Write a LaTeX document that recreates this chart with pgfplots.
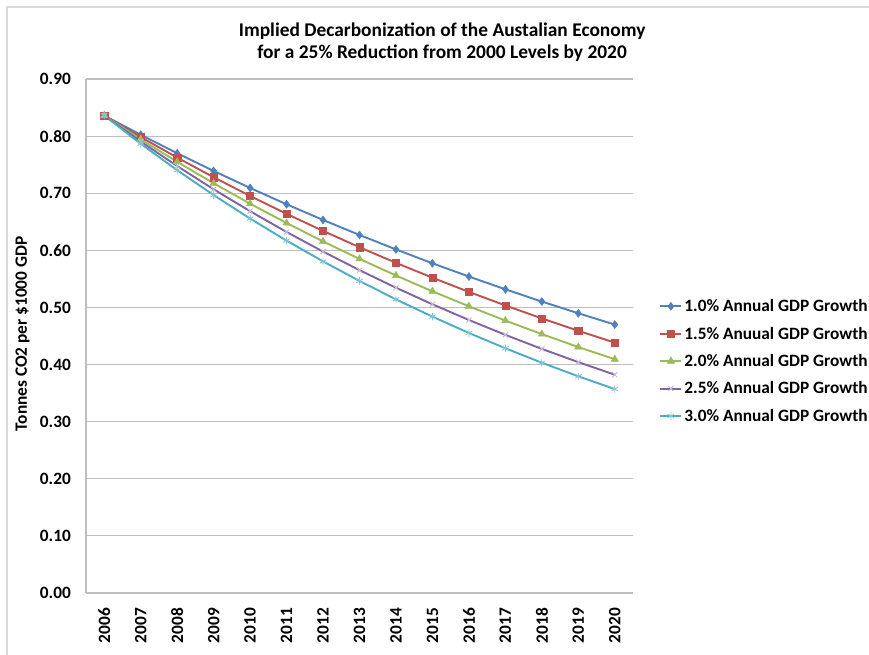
\documentclass[border=0pt]{standalone}
\usepackage{fontspec}
\setmainfont{Carlito}
\usepackage{pgfplots}
\pgfplotsset{compat=1.18}
\definecolor{s1}{HTML}{4F81BD}
\definecolor{s2}{HTML}{C0504D}
\definecolor{s3}{HTML}{9BBB59}
\definecolor{s4}{HTML}{8064A2}
\definecolor{s5}{HTML}{4BACC6}
\definecolor{gridc}{HTML}{BFBFBF}
\definecolor{framec}{HTML}{D9D9D9}
\begin{document}
\begin{tikzpicture}[x=1bp,y=1bp]
\useasboundingbox (0,0) rectangle (869,655);
\draw[framec, line width=2bp] (7,-5) -- (7,648) -- (875,648);
\begin{axis}[
  at={(86bp,62bp)}, anchor=south west,
  scale only axis, width=547bp, height=514bp,
  xmin=-0.5, xmax=14.5, ymin=0, ymax=0.9,
  xtick={0,...,14},
  xticklabels={2006,2007,2008,2009,2010,2011,2012,2013,2014,2015,2016,2017,2018,2019,2020},
  ytick={0,0.1,...,0.9},
  yticklabel={\pgfmathprintnumber[fixed,fixed zerofill,precision=2]{\tick}},
  /pgf/number format/assume math mode=true,
  major tick length=0pt,
  axis x line*=bottom, axis y line*=left,
  axis line style={gridc, line width=1.2bp, -},
  ymajorgrids, grid style={gridc, line width=1.2bp},
  tick label style={font=\fontsize{17.3bp}{20bp}\selectfont\bfseries, black},
  yticklabel style={anchor=east, inner sep=0pt, xshift=-15bp},
  xticklabel style={rotate=90, anchor=east, inner sep=0pt, xshift=-15bp},
  ylabel={Tonnes CO2 per \$1000 GDP},
  ylabel style={at={(rel axis cs:-0.116,0.504)}, anchor=center, font=\fontsize{17.3bp}{20bp}\selectfont\bfseries},
  title={Implied Decarbonization of the Austalian Economy\\for a 25\% Reduction from 2000 Levels by 2020},
  title style={at={(rel axis cs:0.651,1.060)}, anchor=center, align=center, font=\fontsize{19.4bp}{22bp}\selectfont\bfseries},
  legend style={at={(rel axis cs:1.048,0.451)}, anchor=west, draw=none, fill=none,
    font=\fontsize{17.3bp}{20bp}\selectfont\bfseries, row sep=9.8bp, inner sep=0pt,
    /tikz/every even column/.append style={column sep=0pt}},
  legend cell align=left,
  legend image code/.code={\draw[#1] (0bp,0bp) -- (21bp,0bp); \draw[#1, only marks] plot coordinates {(10.5bp,0bp)};},
  every axis plot/.append style={line width=1.9bp},
]
\addplot[s1, mark=diamond*, mark size=4bp, mark options={fill=s1, line width=0.5bp}] coordinates {
(0,0.836)(1,0.8023)(2,0.7700)(3,0.7390)(4,0.7092)(5,0.6806)(6,0.6532)(7,0.6269)(8,0.6016)(9,0.5773)(10,0.5541)(11,0.5317)(12,0.5103)(13,0.4898)(14,0.4700)};
\addlegendentry{1.0\% Annual GDP Growth}
\addplot[s2, mark=square*, mark size=3.6bp, mark options={fill=s2, line width=0.5bp}] coordinates {
(0,0.836)(1,0.7983)(2,0.7624)(3,0.7280)(4,0.6952)(5,0.6639)(6,0.6340)(7,0.6054)(8,0.5781)(9,0.5521)(10,0.5272)(11,0.5035)(12,0.4808)(13,0.4591)(14,0.4384)};
\addlegendentry{1.5\% Anuual GDP Growth}
\addplot[s3, mark=triangle*, mark size=4.2bp, mark options={fill=s3, line width=0.5bp}] coordinates {
(0,0.836)(1,0.7944)(2,0.7549)(3,0.7174)(4,0.6817)(5,0.6478)(6,0.6156)(7,0.5850)(8,0.5559)(9,0.5282)(10,0.5020)(11,0.4770)(12,0.4533)(13,0.4307)(14,0.4093)};
\addlegendentry{2.0\% Annual GDP Growth}
\addplot[s4, mark=x, mark size=3.6bp, mark options={draw=s4!45, line width=0.9bp}] coordinates {
(0,0.836)(1,0.7905)(2,0.7476)(3,0.7069)(4,0.6685)(5,0.6321)(6,0.5978)(7,0.5653)(8,0.5345)(9,0.5055)(10,0.4780)(11,0.4520)(12,0.4274)(13,0.4042)(14,0.3822)};
\addlegendentry{2.5\% Annual GDP Growth}
\addplot[s5, mark=asterisk, mark size=3.8bp, mark options={draw=s5!70, line width=0.8bp}] coordinates {
(0,0.836)(1,0.7867)(2,0.7403)(3,0.6967)(4,0.6556)(5,0.6170)(6,0.5806)(7,0.5464)(8,0.5141)(9,0.4839)(10,0.4553)(11,0.4285)(12,0.4032)(13,0.3794)(14,0.3571)};
\addlegendentry{3.0\% Annual GDP Growth}
\end{axis}
\end{tikzpicture}
\end{document}
